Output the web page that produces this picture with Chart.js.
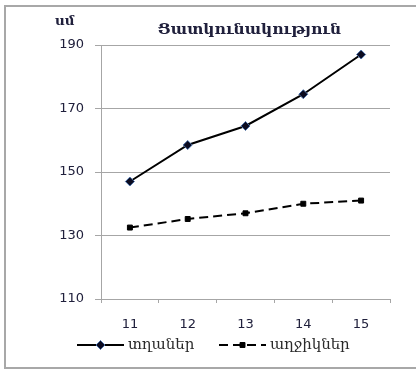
<!DOCTYPE html>
<html>
<head>
<meta charset="utf-8">
<script src="https://cdn.jsdelivr.net/npm/chart.js@4/dist/chart.umd.min.js"></script>
<style>
  html, body { margin: 0; padding: 0; background: #fff; overflow: hidden; }
  #wrap { position: relative; width: 416px; height: 371px; }
  #frame { position: absolute; left: 4px; top: 5px; width: 430px; height: 360px; border: 2px solid #a8a8a8; box-sizing: content-box; }
  #c { position: absolute; left: 0; top: 0; }
</style>
</head>
<body>
<div id="wrap">
  <div id="frame"></div>
  <canvas id="c" width="416" height="371"></canvas>
</div>
<script>
// Ages (years) on the horizontal axis
const ages = ['11', '12', '13', '14', '15'];
// Average values per age, cm
const boys = [147, 158.5, 164.5, 174.5, 187];
const girls = [132.5, 135.2, 137, 140, 141];
// Series names and chart captions
const boysLabel = 'տղաներ';
const girlsLabel = 'աղջիկներ';
const chartTitle = 'Ցատկունակություն';
const unitLabel = 'սմ';
// Value axis range
const yMin = 110, yMax = 190, yStep = 20;

const gridColor = '#a6a6a6';
const textColor = '#20203c';

// Title, unit caption and a line-sample legend drawn around the plot area
const captions = {
  id: 'captions',
  afterDraw(chart) {
    const ctx = chart.ctx;
    const area = chart.chartArea;
    ctx.save();
    ctx.fillStyle = textColor;
    ctx.textBaseline = 'alphabetic';
    ctx.textAlign = 'center';
    ctx.font = 'bold 15.5px "DejaVu Serif"';
    ctx.fillText(chartTitle, (area.left + area.right) / 2 + 4, 34);
    ctx.textAlign = 'left';
    ctx.font = 'bold 13.5px "DejaVu Serif"';
    ctx.fillText(unitLabel, 55, 25);

    // legend: line sample with its marker, then the series name
    const starts = [77, 219];
    const sampleLen = 47;
    const ly = 345;
    chart.data.datasets.forEach((ds, i) => {
      const x0 = starts[i];
      ctx.save();
      ctx.strokeStyle = ds.borderColor;
      ctx.lineWidth = ds.borderWidth;
      ctx.setLineDash(ds.borderDash || []);
      ctx.beginPath();
      ctx.moveTo(x0, ly);
      ctx.lineTo(x0 + sampleLen, ly);
      ctx.stroke();
      ctx.restore();

      ctx.save();
      ctx.fillStyle = ds.pointBackgroundColor;
      ctx.strokeStyle = ds.pointBorderColor;
      ctx.lineWidth = ds.pointBorderWidth;
      ctx.setLineDash([]);
      Chart.helpers.drawPoint(ctx, {
        pointStyle: ds.pointStyle,
        radius: ds.pointRadius,
        borderWidth: ds.pointBorderWidth,
        rotation: 0
      }, x0 + sampleLen / 2, ly);
      ctx.restore();

      ctx.fillStyle = '#2a2a2a';
      ctx.font = '15px "DejaVu Serif"';
      ctx.textAlign = 'left';
      ctx.textBaseline = 'alphabetic';
      ctx.fillText(ds.label, x0 + sampleLen + 4, 349);
    });
    ctx.restore();
  }
};

new Chart(document.getElementById('c'), {
  type: 'line',
  data: {
    labels: ages,
    datasets: [
      {
        label: boysLabel,
        data: boys,
        borderColor: '#000000',
        borderWidth: 2,
        pointStyle: 'rectRot',
        pointRadius: 4.5,
        pointBackgroundColor: '#0b0b20',
        pointBorderColor: '#4a70a8',
        pointBorderWidth: 1,
        tension: 0
      },
      {
        label: girlsLabel,
        data: girls,
        borderColor: '#000000',
        borderWidth: 2,
        borderDash: [9, 5],
        pointStyle: 'rect',
        pointRadius: 3.5,
        pointBackgroundColor: '#000000',
        pointBorderColor: '#000000',
        pointBorderWidth: 1,
        tension: 0
      }
    ]
  },
  options: {
    responsive: false,
    animation: false,
    layout: { padding: { left: 0, right: 26, top: 45, bottom: 42 } },
    plugins: {
      legend: { display: false },
      title: { display: false },
      tooltip: { enabled: false }
    },
    scales: {
      x: {
        offset: true,
        grid: { offset: true, drawOnChartArea: false, drawTicks: true, tickLength: 4, color: gridColor, lineWidth: 1 },
        border: { display: true, color: gridColor, width: 1 },
        ticks: { color: textColor, font: { family: 'DejaVu Sans', size: 13 }, padding: 14, maxRotation: 0 },
        afterFit(scale) { scale.height = 30; }
      },
      y: {
        min: yMin,
        max: yMax,
        ticks: { stepSize: yStep, color: textColor, font: { family: 'DejaVu Sans', size: 13 }, padding: 11 },
        grid: { color: gridColor, lineWidth: 1, drawTicks: true, tickLength: 6 },
        border: { display: true, color: gridColor, width: 1 },
        afterFit(scale) { scale.width = 101; }
      }
    }
  },
  plugins: [captions]
});
</script>
</body>
</html>
